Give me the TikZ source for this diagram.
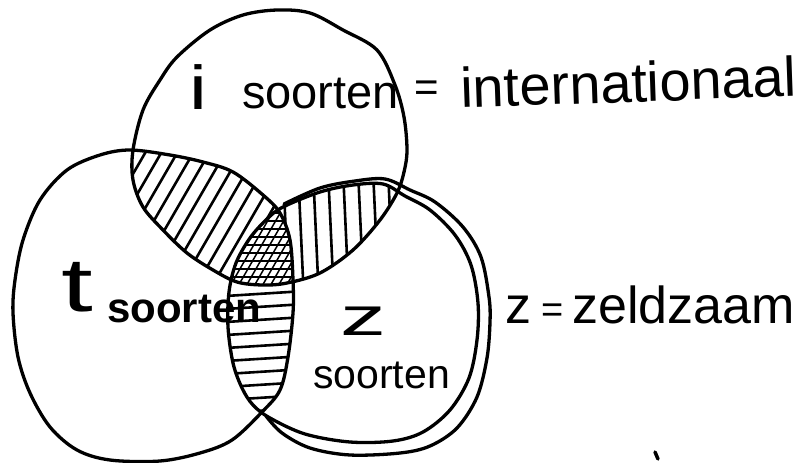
\documentclass[tikz,border=0pt]{standalone}
\usepackage{fontspec}
\setmainfont{Liberation Sans}
\begin{document}
\begin{tikzpicture}[x=1pt,y=-1pt,
  outline/.style={line width=3.3pt, line join=round, line cap=round},
  hatch/.style={line width=2.6pt, line cap=round},
  mesh/.style={line width=1.5pt},
  lbl/.style={inner sep=0pt, anchor=base west, text=black}]
\useasboundingbox (0,0) rectangle (811,463);
\fill[white] (0,0) rectangle (811,463);

\def\Ipath{plot[smooth cycle, tension=0.55] coordinates {(277,10) (310,13) (343,30) (377,50) (395,85) (404,117) (407,150) (404,172) (397,193) (380,220) (353,250) (320,273) (287,283) (263,285) (237,282) (213,270) (187,253) (163,230) (143,207) (133,180) (133,150) (143,110) (160,80) (177,57) (210,30) (243,15)}}
\def\Tpath{plot[smooth cycle, tension=0.55] coordinates {(130,150) (170,155) (203,162) (233,172) (263,195) (280,213) (290,240) (293,280) (293,313) (288,357) (280,390) (262,412) (232,440) (200,453) (160,461) (110,460) (77,450) (50,427) (30,393) (18,357) (13,313) (15,280) (23,240) (40,200) (67,170) (100,155)}}
\def\Zpath{plot[smooth cycle, tension=0.55] coordinates {(283,207) (320,192) (353,185) (383,184) (405,196) (430,210) (455,235) (471,265) (478,303) (477,340) (469,378) (450,410) (423,432) (393,441) (350,442) (305,434) (270,418) (253,405) (242,388) (233,363) (228,327) (229,292) (236,263) (250,238) (267,219)}}

% i and z only: vertical hatching
\begin{scope}
  \clip \Ipath; \clip \Zpath;
  \foreach \x in {287,302,...,407} \draw[hatch] (\x+2,300) -- (\x-4,170);
\end{scope}
% t and z only: horizontal hatching
\begin{scope}
  \clip \Tpath; \clip \Zpath;
  \foreach \y in {294,307,...,420} \draw[hatch] (210,\y+3) -- (305,\y-3);
\end{scope}
% i and t: diagonal hatching
\begin{scope}
  \clip \Ipath; \clip \Tpath;
  \fill[white] (100,100) rectangle (320,320);
  \foreach \a in {60,76,...,330} \draw[hatch] (\a,300) -- (\a+110,110);
\end{scope}
% i, t and z: cross hatching
\begin{scope}
  \clip \Ipath; \clip \Tpath; \clip \Zpath;
  \fill[white] (200,200) rectangle (320,320);
  \foreach \a in {150,158,...,320} \draw[mesh] (\a,300) -- (\a+60,196);
  \foreach \y in {205,213,...,295} \draw[mesh] (220,\y) -- (300,\y);
\end{scope}

\draw[outline] \Ipath;
\draw[outline] \Tpath;
\draw[outline] \Zpath;
\draw[outline] plot[smooth, tension=0.55] coordinates {(284,204) (320,188) (355,181) (385,179) (410,190) (435,202) (463,227) (481,257) (489,297) (490,322) (487,358) (477,397) (457,428) (430,446) (400,453) (350,455) (310,448) (282,433) (266,416)};

\node[lbl, font=\fontsize{62}{62}\selectfont, xscale=1.3] (ilab) at (189,109) {i};
\node[lbl, font=\fontsize{47}{47}\selectfont] (isoort) at (242,108) {soorten};
\node[lbl, font=\fontsize{42}{42}\selectfont] (ieq) at (414,101) {=};
\node[lbl, font=\fontsize{56}{56}\selectfont, rotate=2] (intl) at (461,108) {internationaal};
\node[lbl, font=\fontsize{76}{76}\selectfont, xscale=1.5] (tlab) at (61,311) {t};
\node[lbl, font=\bfseries\fontsize{42}{42}\selectfont] (tsoort) at (107,322) {soorten};
\node[lbl, font=\fontsize{54}{54}\selectfont, xscale=1.7] (zlab) at (340,335) {z};
\node[lbl, font=\fontsize{41}{41}\selectfont] (zsoort) at (313,388) {soorten};
\node[lbl, font=\fontsize{52}{52}\selectfont] (zeld) at (505,323) {z\hspace{10pt}\raisebox{1pt}{\fontsize{38}{38}\selectfont =}\hspace{9pt}zeldzaam};

\draw[line width=3.5pt, line cap=round] (655,452) -- (658,459);
\end{tikzpicture}
\end{document}
